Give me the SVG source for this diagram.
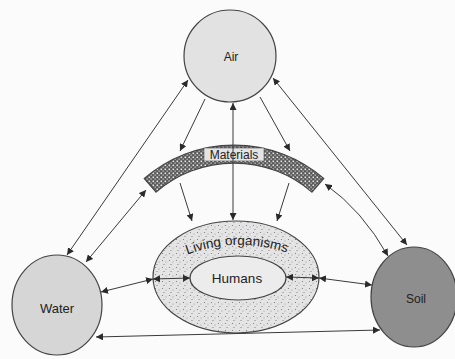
<svg xmlns="http://www.w3.org/2000/svg" width="455" height="359" viewBox="0 0 455 359">
<style>
.lbl{font-family:"Liberation Sans",Arial,sans-serif;fill:#222;text-anchor:middle}
.node{stroke:#444;stroke-width:1.2}
.con{fill:none;stroke:#3a3a3a;stroke-width:1}
</style>
<defs>
<marker id="ah" viewBox="0 0 10 10" refX="10" refY="5" markerWidth="7" markerHeight="7" markerUnits="userSpaceOnUse" orient="auto-start-reverse">
<path d="M0,0 L10,5 L0,10 Z" fill="#2a2a2a"/>
</marker>
<pattern id="check" width="4" height="4" patternUnits="userSpaceOnUse">
<rect width="4" height="4" fill="#5a5a5a"/>
<rect x="0.5" y="0.5" width="1.6" height="1.6" fill="#e6e6e6"/>
<rect x="2.5" y="2.5" width="1.3" height="1.3" fill="#c8c8c8"/>
</pattern>
<pattern id="dots" width="7" height="7" patternUnits="userSpaceOnUse">
<rect width="7" height="7" fill="#e4e4e4"/>
<circle cx="1.5" cy="1.5" r="0.6" fill="#777"/>
<circle cx="5" cy="3" r="0.5" fill="#888"/>
<circle cx="3" cy="5.5" r="0.6" fill="#777"/>
</pattern>
</defs>
<rect width="455" height="359" fill="#fbfbfb"/>
<g id="air"><circle class="node" cx="230" cy="56" r="46" fill="#e2e2e2"/><text class="lbl" x="231" y="61" font-size="12">Air</text></g>
<g id="water"><ellipse class="node" cx="57" cy="305" rx="45" ry="50" fill="#d6d6d6"/><text class="lbl" x="57" y="313" font-size="13">Water</text></g>
<g id="soil"><ellipse class="node" cx="414" cy="297" rx="43" ry="50" fill="#8e8e8e"/><text class="lbl" x="416" y="303" font-size="12">Soil</text></g>
<g id="materials"><path class="node" d="M144.3,178.5 A137,137 0 0 1 323.7,178.5 L311.9,192.1 A119,119 0 0 0 156.1,192.1 Z" fill="url(#check)"/><rect x="204" y="148" width="60" height="13" fill="#e4e4e4" stroke="#555" stroke-width="0.6"/><text class="lbl" x="234" y="159" font-size="12">Materials</text></g>
<g id="living"><ellipse class="node" cx="236" cy="277" rx="83" ry="56" fill="url(#dots)"/><path id="lp" d="M176,259 Q237,232 298,257" fill="none"/><text class="lbl" font-size="13.5"><textPath href="#lp" startOffset="50%">Living organisms</textPath></text></g>
<g id="humans"><ellipse class="node" cx="238" cy="278" rx="48" ry="22" fill="#ececec"/><text class="lbl" x="237" y="283" font-size="13.5">Humans</text></g>
<g id="connectors">
<path class="con" d="M67,255 L188,80" marker-start="url(#ah)" marker-end="url(#ah)"/>
<path class="con" d="M205,99 L180,151" marker-end="url(#ah)"/>
<path class="con" d="M146,190 L86,262" marker-start="url(#ah)" marker-end="url(#ah)"/>
<path class="con" d="M180,183 L192,221" marker-end="url(#ah)"/>
<path class="con" d="M233,103 L233,220" marker-start="url(#ah)" marker-end="url(#ah)"/>
<path class="con" d="M260,97 L290,151" marker-end="url(#ah)"/>
<path class="con" d="M289,183 L277,221" marker-end="url(#ah)"/>
<path class="con" d="M325,184 Q362,210 388,256" marker-start="url(#ah)" marker-end="url(#ah)"/>
<path class="con" d="M273,78 L407,245" marker-start="url(#ah)" marker-end="url(#ah)"/>
<path class="con" d="M101,292 L153,279" marker-start="url(#ah)" marker-end="url(#ah)"/>
<path class="con" d="M153,279 L190,278" marker-start="url(#ah)" marker-end="url(#ah)"/>
<path class="con" d="M286,277 L319,278" marker-start="url(#ah)" marker-end="url(#ah)"/>
<path class="con" d="M319,278 L372,285" marker-start="url(#ah)" marker-end="url(#ah)"/>
<path class="con" d="M96,337 L380,330" marker-start="url(#ah)" marker-end="url(#ah)"/>
</g>
</svg>
